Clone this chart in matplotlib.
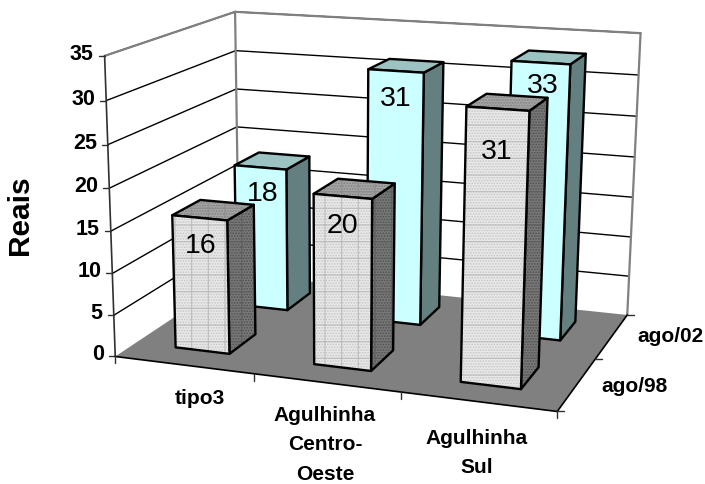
"""Grafico de barras 3D (estilo Excel) desenhado com uma camera projetiva."""

import numpy as np
import matplotlib
matplotlib.use("Agg")
import matplotlib.pyplot as plt
from matplotlib.patches import Polygon

plt.rcParams["font.family"] = ["Liberation Sans", "DejaVu Sans"]
plt.rcParams["hatch.linewidth"] = 0.8

# dados
categories = ["tipo3", "Agulhinha\nCentro-\nOeste", "Agulhinha\nSul"]
series_names = ["ago/98", "ago/02"]
values_98 = [16, 20, 31]
values_02 = [18, 31, 33]
y_ticks = [0, 5, 10, 15, 20, 25, 30, 35]
y_label = "Reais"

# camera: cantos da caixa (x, prof, z) -> pixel
ZMAX = 35.0
box_pts = np.array([[0, 0, 0], [3, 0, 0], [3, 2, 0], [0, 2, 0],
                    [0, 0, 35], [3, 2, 35], [0, 2, 35]], float)
box_px = np.array([[117, 354], [557, 414], [628, 312], [237, 277],
                   [103, 56], [640, 34], [237, 11]], float)


def fit_camera(pts, px):
    rows = []
    for (x, y, z), (u, v) in zip(pts, px):
        z = z / ZMAX
        rows.append([x, y, z, 1, 0, 0, 0, 0, -u*x, -u*y, -u*z, -u])
        rows.append([0, 0, 0, 0, x, y, z, 1, -v*x, -v*y, -v*z, -v])
    _, _, vt = np.linalg.svd(np.array(rows))
    return vt[-1].reshape(3, 4)


P = fit_camera(box_pts, box_px)


def proj(x, y, z):
    h = P @ np.array([x, y, z / ZMAX, 1.0])
    return h[0] / h[2], h[1] / h[2]


fig = plt.figure(figsize=(7.05, 4.84), dpi=100)
ax = fig.add_axes([0, 0, 1, 1])
ax.set_xlim(0, 705); ax.set_ylim(484, 0); ax.axis("off")

GREY = "#808080"


def seg(a, b, color="black", lw=1.0, z=2):
    ax.plot([a[0], b[0]], [a[1], b[1]], color=color, lw=lw, zorder=z,
            solid_capstyle="round")


# chao e paredes
ax.add_patch(Polygon([proj(0, 0, 0), proj(3, 0, 0), proj(3, 2, 0), proj(0, 2, 0)],
                     fc=GREY, ec="none", zorder=1))
for t in y_ticks[1:]:
    seg(proj(0, 0, t), proj(0, 2, t), lw=1.0)
    seg(proj(0, 2, t), proj(3, 2, t), lw=1.0)
seg(proj(0, 0, ZMAX), proj(0, 2, ZMAX), GREY, 1.6)
seg(proj(0, 2, ZMAX), proj(3, 2, ZMAX), GREY, 1.6)
seg(proj(0, 2, 0), proj(0, 2, ZMAX), GREY, 1.6)
seg(proj(3, 2, 0), proj(3, 2, ZMAX), GREY, 1.6)
seg(proj(0, 0, 0), proj(0, 0, ZMAX), "#303030", 1.2)

# eixos e marcas
seg(proj(0, 0, 0), proj(3, 0, 0), lw=1.2, z=3)
seg(proj(3, 0, 0), proj(3, 2, 0), lw=1.2, z=3)
for t in y_ticks:
    u, v = proj(0, 0, t)
    seg((u - 6, v), (u, v), "#303030", 1.0)
    ax.text(u - 11, v - 1.5, str(t), ha="right", va="center", fontsize=15.5, fontweight="bold")
for i in range(4):
    u, v = proj(i, 0, 0)
    seg((u, v), (u, v + 7), "#303030", 1.0, z=3)
for j in range(3):
    u, v = proj(3, j, 0)
    seg((u, v), (u + 7, v), "#303030", 1.0, z=3)

# rotulos dos eixos
ax.text(20, 215, y_label, rotation=90, ha="center", va="center",
        fontsize=21.5, fontweight="bold")
cat_pos = [(200, 398), (325, 445), (477, 453)]
for name, (u, v) in zip(categories, cat_pos):
    ax.text(u, v, name, ha="center", va="center", multialignment="center",
            fontsize=15, fontweight="bold", linespacing=1.68)
ser_pos = [(634, 386), (670, 336)]
for name, (u, v) in zip(series_names, ser_pos):
    ax.text(u, v, name, ha="center", va="center", fontsize=15, fontweight="bold")


def face(corners, fc, hc, hatch, grid_color, z, grid=None):
    ax.add_patch(Polygon(corners, fc=fc, ec=hc, hatch=hatch, lw=0, zorder=z))
    if grid:
        ax.add_patch(Polygon(corners, fc="none", ec=grid_color, hatch=grid, lw=0, zorder=z))
    ax.add_patch(Polygon(corners, fc="none", ec="black", lw=1.7, zorder=z, joinstyle="round"))


def bar3(i, j, val, z, front, top, side, grid, label_off):
    x0, x1 = i + BAR_X, i + BAR_X + BAR_W
    y0, y1 = j + BAR_Y, j + BAR_Y + BAR_D
    f = [proj(x0, y0, 0), proj(x1, y0, 0), proj(x1, y0, val), proj(x0, y0, val)]
    s = [proj(x1, y0, 0), proj(x1, y1, 0), proj(x1, y1, val), proj(x1, y0, val)]
    t = [proj(x0, y0, val), proj(x1, y0, val), proj(x1, y1, val), proj(x0, y1, val)]
    face(s, *side, z, grid)
    face(t, *top, z, grid)
    face(f, *front, z, grid)
    u = (f[2][0] + f[3][0]) / 2 + label_off[0]
    v = (f[2][1] + f[3][1]) / 2 + label_off[1]
    ax.text(u, v, str(val), ha="center", va="center", fontsize=20.5, zorder=z + 0.5)


BAR_X, BAR_W = 0.295, 0.395
BAR_Y, BAR_D = 0.30, 0.43

cyan = dict(front=("#ccffff", "#ccffff", None, "#ccffff"),
            top=("#9cc2c2", "#9cc2c2", None, "#9cc2c2"),
            side=("#637f7f", "#637f7f", None, "#637f7f"), grid=None)
grey = dict(front=("#e8e8e8", "#c6c6c6", "......", "#bcbcbc"),
            top=("#a4a4a4", "#808080", "......", "#8e8e8e"),
            side=("#787878", "#505050", "......", "#5e5e5e"))
grids = ["+", "+", "-"]
off_02 = [(2, 27), (0, 28), (2, 23)]
off_98 = [(1, 28), (0, 30), (-1, 43)]

for i, val in enumerate(values_02):
    bar3(i, 1, val, 10 + i, label_off=off_02[i], **cyan)
for i, val in enumerate(values_98):
    bar3(i, 0, val, 20 + i, grid=grids[i], label_off=off_98[i], **grey)

fig.savefig("out.png", dpi=100)
plt.close(fig)
